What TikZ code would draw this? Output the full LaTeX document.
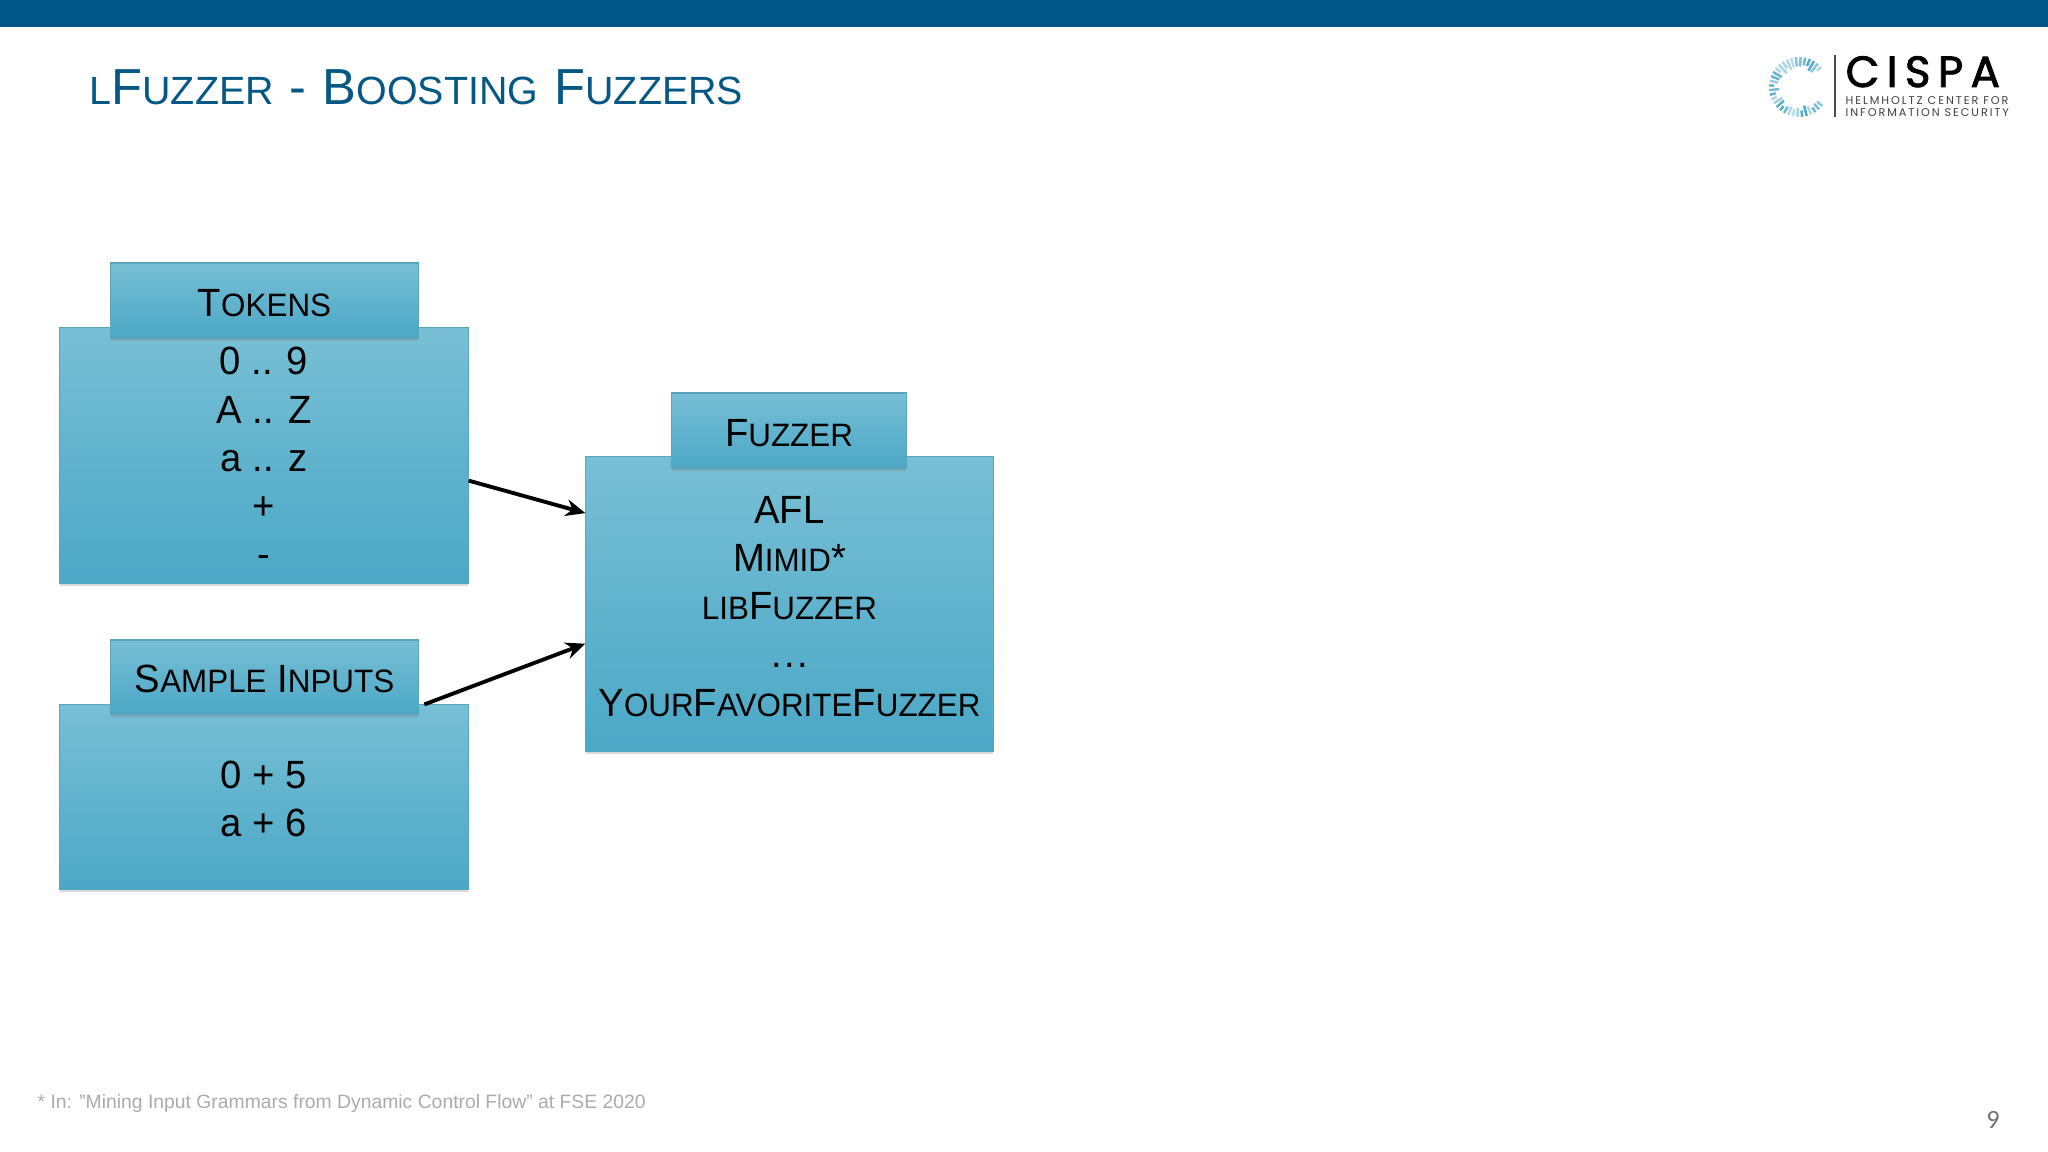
\documentclass[tikz,border=0pt]{standalone}
\usepackage{fontspec}
\setmainfont{Liberation Sans}
\newfontfamily\panelfont[FakeStretch=.97]{Liberation Sans}
\newfontfamily\logofont{Poppins}
\newfontfamily\logoheavy[FakeBold=2]{Poppins}
\newfontfamily\pagefont{Carlito}
\usetikzlibrary{shadows}
\usetikzlibrary{arrows.meta}
\definecolor{barblue}{RGB}{0,86,135}
\definecolor{titleblue}{RGB}{6,88,132}
\definecolor{boxtop}{RGB}{120,191,213}
\definecolor{boxbottom}{RGB}{75,168,198}
\definecolor{boxline}{RGB}{88,165,188}
\definecolor{notegray}{RGB}{170,170,170}
\newcommand{\boxsc}[2]{#1{\fontsize{9.2}{11}\selectfont #2}}
\newcommand{\titlesc}[2]{#1{\fontsize{11.2}{13}\selectfont #2}}
\newcommand{\firstrow}{\rule{0pt}{9pt}}
\tikzset{
  panel/.style={draw=boxline, line width=.3pt, top color=boxtop, bottom color=boxbottom, inner sep=0pt, align=center,
    drop shadow={opacity=.3, shadow xshift=0pt, shadow yshift=-.8pt},
    font=\panelfont\fontsize{11.2}{13.7}\selectfont},
  link/.style={-{Stealth[length=5.6pt, width=4.8pt]}, line width=1.1pt}
}
\begin{document}
\begin{tikzpicture}[>=stealth, x=.01cm, y=-.01cm]
    \useasboundingbox (0,0) rectangle (2048,1152);
    \fill[barblue] (0,0) rectangle (2048,27);
    \node[anchor=base west, inner sep=0pt, text=titleblue, font=\fontsize{14.4}{16}\selectfont](title) at (89,105)
        {\titlesc{}{L}\titlesc{F}{UZZER}\kern.4pt{} -\kern.7pt{} \titlesc{B}{OOSTING}\kern.7pt{} \titlesc{F}{UZZERS}};

    % logo
    \pgfmathsetseed{7}
    \foreach \i in {0, 1, ..., 31}
    {\pgfmathsetmacro{\a}{42 + 9*\i}
    \pgfmathsetmacro{\s}{18 + 7*rnd}
    \pgfmathsetmacro{\t}{35 + 65*rnd}
    \draw[line width=.7pt, color=boxbottom!\t!white] (1799,87) ++(-\a:\s) -- ++(-\a:30-\s);}
    \coordinate (ruletop) at (1835,55);
    \coordinate (rulebot) at (1835,117);
    \draw[line width=.3pt, color=black!70] (ruletop) -- (rulebot);
    \node[anchor=base west, inner sep=0pt, font=\logoheavy\fontsize{12.4}{14}\selectfont](cispa) at (1845,87)
        {\addfontfeatures{LetterSpace=17}CISPA};
    \node[anchor=base west, inner sep=0pt, text=black!75, font=\logofont\fontsize{3.2}{4}\selectfont](helm) at (1845,105)
        {\addfontfeatures{LetterSpace=17}HELMHOLTZ CENTER FOR};
    \node[anchor=base west, inner sep=0pt, text=black!75, font=\logofont\fontsize{3.2}{4}\selectfont](info) at (1845,117)
        {\addfontfeatures{LetterSpace=17}INFORMATION SECURITY};

    % boxes
    \node[panel, minimum width=4.08cm, minimum height=2.55cm](tokens) at (264,455.5)
        {\firstrow 0 .. 9\\A .. Z\\a .. z\\+\\-};
    \node[panel, minimum width=3.07cm, minimum height=.75cm](tokenshead) at (264.5,300.5) {\firstrow\boxsc{T}{OKENS}};
    \node[panel, minimum width=4.08cm, minimum height=1.84cm](inputs) at (264,797)
        {\firstrow 0 + 5\\a + 6};
    \node[panel, minimum width=3.07cm, minimum height=.74cm](inputshead) at (264.5,677) {\firstrow\boxsc{S}{AMPLE} \boxsc{I}{NPUTS}};
    \node[panel, minimum width=4.07cm, minimum height=2.94cm](fuzzer) at (789.5,604)
        {\firstrow AFL\\\boxsc{M}{IMID}*\\\boxsc{}{LIB}\boxsc{F}{UZZER}\\.\kern.7pt.\kern.7pt.\\\boxsc{Y}{OUR}\boxsc{F}{AVORITE}\boxsc{F}{UZZER}};
    \node[panel, minimum width=2.34cm, minimum height=.75cm](fuzzerhead) at (789,430.5) {\firstrow\boxsc{F}{UZZER}};

    \draw[link] (tokens.-7.2) -- (fuzzer.156.7);
    \draw[link] (inputs.30.1) -- (fuzzer.191.2);

    \node[anchor=base west, inner sep=0pt, text=notegray, font=\fontsize{5.5}{7}\selectfont](note) at (37,1108)
        {* In: "Mining Input Grammars from Dynamic Control Flow" at FSE 2020};
    \node[inner sep=0pt, text=black!55, font=\pagefont\fontsize{7.5}{9}\selectfont](page) at (1993,1120) {9};
\end{tikzpicture}
\end{document}
